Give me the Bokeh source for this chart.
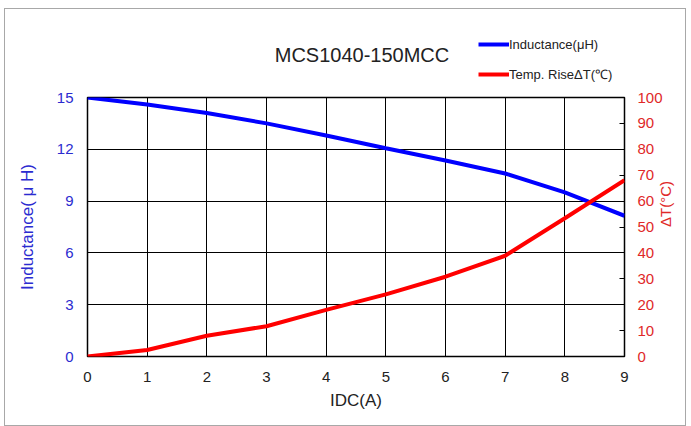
import math
from bokeh.plotting import figure
from bokeh.layouts import column
from bokeh.models import Range1d, LinearAxis, Legend, LegendItem, Label, FixedTicker
from bokeh.embed import file_html
from bokeh.resources import INLINE

# ---- data ----
idc = [0, 1, 2, 3, 4, 5, 6, 7, 8, 9]
inductance = [15.0, 14.6, 14.1, 13.5, 12.8, 12.06, 11.35, 10.6, 9.5, 8.15]
temp_rise = [0, 2.5, 8.0, 11.7, 18.0, 24.0, 30.8, 38.9, 53.4, 68.1]
x_ticks = [0, 1, 2, 3, 4, 5, 6, 7, 8, 9]
left_ticks = [0, 3, 6, 9, 12, 15]
right_ticks = [0, 10, 20, 30, 40, 50, 60, 70, 80, 90, 100]
title_text = "MCS1040-150MCC"
series_names = ["Inductance(μH)", "Temp. RiseΔT(℃)"]

FONT = "Liberation Sans"
BLUE = "#0000ff"
RED = "#ff0000"
BLUE_TXT = "#2b2bd0"
RED_TXT = "#e02828"
W = 680
LEFT, RIGHT = 82, 60

# ---------------- main chart ----------------
p = figure(width=W, height=338, output_backend="svg", toolbar_location=None,
           x_range=Range1d(0, 9), y_range=Range1d(0, 15),
           min_border_left=LEFT, min_border_top=10, min_border_right=RIGHT, min_border_bottom=69)
p.title.visible = False
p.extra_y_ranges = {"temp": Range1d(0, 100)}

p.outline_line_color = "black"
p.outline_line_width = 1.5
p.background_fill_color = "white"
p.border_fill_color = "white"

p.xgrid.grid_line_color = "black"
p.xgrid.grid_line_width = 1
p.ygrid.grid_line_color = "black"
p.ygrid.grid_line_width = 1

xa = p.xaxis[0]
xa.ticker = FixedTicker(ticks=x_ticks)
xa.axis_line_color = None
xa.major_tick_in = 0
xa.major_tick_out = 0
xa.minor_tick_line_color = None
xa.major_label_text_font = FONT
xa.major_label_text_font_size = "15px"
xa.major_label_text_color = "#222222"
xa.major_label_standoff = 15
xa.axis_label = "IDC(A)"
xa.axis_label_text_font = FONT
xa.axis_label_text_font_size = "17px"
xa.axis_label_text_font_style = "normal"
xa.axis_label_text_color = "#222222"
xa.axis_label_standoff = 6

ya = p.yaxis[0]
ya.ticker = FixedTicker(ticks=left_ticks)
ya.axis_line_color = None
ya.major_tick_in = 0
ya.major_tick_out = 0
ya.minor_tick_line_color = None
ya.major_label_text_font = FONT
ya.major_label_text_font_size = "15px"
ya.major_label_text_color = BLUE_TXT
ya.major_label_standoff = 14
ya.axis_label = "Inductance( μ H)"
ya.axis_label_text_font = FONT
ya.axis_label_text_font_size = "17px"
ya.axis_label_text_font_style = "normal"
ya.axis_label_text_color = BLUE_TXT
ya.axis_label_standoff = 17

ra = LinearAxis(y_range_name="temp", ticker=FixedTicker(ticks=right_ticks))
ra.axis_line_color = None
ra.major_tick_in = 5
ra.major_tick_out = 0
ra.major_tick_line_color = "black"
ra.major_tick_line_width = 1
ra.minor_tick_line_color = None
ra.major_label_text_font = FONT
ra.major_label_text_font_size = "15px"
ra.major_label_text_color = RED_TXT
ra.major_label_standoff = 13
ra.axis_label = "ΔT(°C)"
ra.axis_label_text_font = FONT
ra.axis_label_text_font_size = "15px"
ra.axis_label_text_font_style = "normal"
ra.axis_label_text_color = RED_TXT
ra.axis_label_standoff = 0
ra.axis_label_orientation = math.pi / 2
p.add_layout(ra, "right")

r1 = p.line(idc, inductance, line_color=BLUE, line_width=4)
r2 = p.line(idc, temp_rise, line_color=RED, line_width=4, y_range_name="temp")

# ---------------- header: title + legend ----------------
h = figure(width=W, height=78, output_backend="svg", toolbar_location=None,
           x_range=Range1d(0, 9), y_range=Range1d(1000, 1001),
           x_axis_type=None, y_axis_type=None,
           min_border_left=LEFT, min_border_right=RIGHT, min_border_top=0, min_border_bottom=0)
h.title.visible = False
h.grid.visible = False
h.outline_line_color = None
h.background_fill_color = "white"
h.border_fill_color = "white"
# same series, drawn out of the header's view; they only feed the legend swatches
h1 = h.line(idc, inductance, line_color=BLUE, line_width=4)
h2 = h.line(idc, temp_rise, line_color=RED, line_width=4)

h.add_layout(Label(x=274.5, y=33, x_units="screen", y_units="screen", text=title_text,
                   text_align="center", text_baseline="middle", text_font=FONT,
                   text_font_size="20px", text_color="#222222"))

legend = Legend(items=[LegendItem(label=series_names[0], renderers=[h1]),
                       LegendItem(label=series_names[1], renderers=[h2])],
                location=(391, 3), orientation="vertical")
legend.border_line_color = None
legend.background_fill_alpha = 0
legend.padding = 0
legend.margin = 0
legend.spacing = 10
legend.glyph_width = 31
legend.glyph_height = 20
legend.label_height = 20
legend.label_standoff = 0
legend.label_text_font = FONT
legend.label_text_font_size = "13px"
legend.label_text_color = "#222222"
h.add_layout(legend, "center")

layout = column(h, p, spacing=0, margin=(8, 0, 0, 4))
layout.styles = {"border": "1px solid #a8a8a8"}

open("out.html", "w").write(file_html(layout, INLINE))
